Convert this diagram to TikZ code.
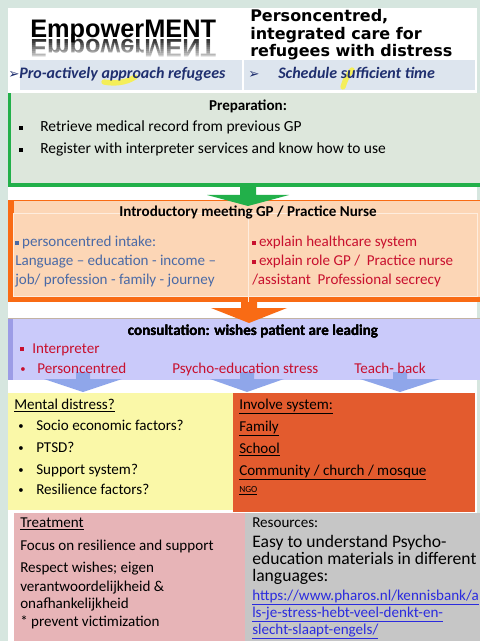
\documentclass[tikz,border=0pt]{standalone}
\usepackage{fontspec}
\setmainfont{Carlito}
\newfontfamily\arialfont{Liberation Sans}
\newfontfamily\verdfont{DejaVu Sans}
\usetikzlibrary{positioning}

\definecolor{mint}{HTML}{D6E6DF}
\definecolor{stripblue}{HTML}{DDE5EE}
\definecolor{striptext}{HTML}{1F2F6F}
\definecolor{prepfill}{HTML}{DDE7DC}
\definecolor{prepgreen}{HTML}{22B04A}
\definecolor{peach}{HTML}{FCD6B6}
\definecolor{introorange}{HTML}{F96B14}
\definecolor{introblue}{HTML}{4A6AA6}
\definecolor{introred}{HTML}{C8102E}
\definecolor{lavender}{HTML}{CACAFA}
\definecolor{lavbar}{HTML}{9C9CE6}
\definecolor{bluearrow}{HTML}{8FA6EA}
\definecolor{distressyellow}{HTML}{FAF8A8}
\definecolor{systemorange}{HTML}{E35B2E}
\definecolor{treatpink}{HTML}{E7B4B7}
\definecolor{resgray}{HTML}{C6C6C6}
\definecolor{linkblue}{HTML}{2B2BDE}

\newcommand{\sqbullet}[1][3pt]{\rule[1.6pt]{#1}{#1}}
\newcommand{\smallbullet}{{\fontsize{8}{8}\selectfont\raisebox{0.6pt}{•}}}
% colour, centre x, stem top, head top, tip, half head, half stem
\newcommand{\flowarrow}[7]{\fill[#1] (#2-#7,#3) -- (#2-#7,#4) -- (#2-#6,#4) -- (#2,#5)
  -- (#2+#6,#4) -- (#2+#7,#4) -- (#2+#7,#3) -- cycle;}

\begin{document}
\begin{tikzpicture}[x=0.75pt,y=-0.75pt,
    txt/.style={anchor=base west,inner sep=0pt,font=\fontsize{11.3}{13}\selectfont},
    bigtxt/.style={anchor=base west,inner sep=0pt,font=\fontsize{13.2}{15}\selectfont},
    linktxt/.style={anchor=base west,inner sep=0pt,text=linkblue,font=\fontsize{11.3}{13}\selectfont},
    head/.style={anchor=base,inner sep=0pt,font=\bfseries\fontsize{11.3}{13}\selectfont},
    striptxt/.style={anchor=base west,inner sep=0pt,text=striptext,font=\bfseries\itshape\fontsize{12}{13}\selectfont},
    titletxt/.style={anchor=base west,inner sep=0pt,font=\verdfont\bfseries\fontsize{12}{13}\selectfont},
    logo/.style={anchor=base west,inner sep=0pt,font=\arialfont\bfseries\fontsize{19}{20}\selectfont},
    hilite/.style={yellow!90!white,line width=4pt,line cap=round,opacity=0.7}]
\useasboundingbox (0,0) rectangle (480,641);
\fill[mint] (0,0) rectangle (480,641);
\fill[white] (8,8) rectangle (477,641);

% title
\node[logo,text=black!80,yscale=-1,transform shape] (mirror) at (30,40) {EmpowerMENT};
\foreach \k in {0,...,7}
  \fill[white,opacity=0.1*\k+0.05] (26,41+2*\k) rectangle (222,43+2*\k);
\fill[white] (26,57) rectangle (222,60);
\node[logo] (empower) at (30,38) {EmpowerMENT};
\node[titletxt] (subA) at (250,22) {Personcentred,};
\node[titletxt] (subB) at (250,40) {integrated care for};
\node[titletxt] (subC) at (250,57) {refugees with distress};

% strip
\fill[stripblue] (20,60) rectangle (475,90);
\draw[white,line width=0.8pt] (243,60) -- (243,90);
\draw[hilite] (104,82) .. controls (114,84) and (126,83) .. (135,77);
\draw[hilite] (343,87) .. controls (345,80) and (348,74) .. (352,70);
\node[striptxt] (tickA) at (8,79) {{\verdfont\mdseries\upshape\fontsize{10}{10}\selectfont ➢}};
\node[striptxt] (approach) at (19,79) {Pro-actively approach refugees};
\node[striptxt] (tickB) at (248,79) {{\verdfont\mdseries\upshape\fontsize{10}{10}\selectfont ➢}};
\node[striptxt] (schedule) at (278,79) {Schedule sufficient time};

% preparation
\fill[prepfill] (8,93) rectangle (480,187);
\fill[prepgreen] (8,93) rectangle (11,187);
\fill[prepgreen] (8,183) rectangle (480,187);
\node[head] (prep) at (248,111) {Preparation:};
\node[txt] (bulA) at (19,132) {\sqbullet};
\node[txt,font=\fontsize{11.6}{13}\selectfont] (record) at (40,132) {Retrieve medical record from previous GP};
\node[txt] (bulB) at (19,154) {\sqbullet};
\node[txt,font=\fontsize{11.6}{13}\selectfont] (register) at (40,154) {Register with interpreter services and know how to use};

% introductory meeting
\fill[peach] (8,200) rectangle (480,302);
\fill[introorange] (8,200) rectangle (14,302);
\fill[introorange] (8,297) rectangle (480,302);
\draw[introorange,line width=0.8pt] (8,200.5) -- (480,200.5);
\draw[white!55!peach,line width=0.7pt] (13,213) rectangle (477,296) (248,213) -- (248,302);
\flowarrow{prepgreen}{248}{187}{195}{206}{41}{8}
\node[head] (intro) at (248,217) {Introductory meeting GP / Practice Nurse};
\node[txt,text=introblue] (intake) at (15,247) {\sqbullet[2.6pt] personcentred intake:};
\node[txt,text=introblue] (language) at (15,266) {Language -- education - income --};
\node[txt,text=introblue] (journey) at (15,284) {job/ profession - family - journey};
\node[txt,text=introred] (health) at (252,247) {\sqbullet[2.6pt] explain healthcare system};
\node[txt,text=introred] (role) at (252,266) {\sqbullet[2.6pt] explain role GP /\ \ Practice nurse};
\node[txt,text=introred] (secrecy) at (252,284) {/assistant\ \ Professional secrecy};

% consultation
\fill[lavender] (8,318) rectangle (480,380);
\fill[lavbar] (8,318) rectangle (13,380);
\draw[brown!40!gray!60,line width=0.6pt] (8,318) -- (480,318);
\flowarrow{introorange}{249}{302}{308}{323}{38}{8}
\foreach \cx/\hw in {83/39, 247/37, 400/40}
  \flowarrow{bluearrow}{\cx}{372}{379}{392}{\hw}{7}
\node[head] (consult) at (253,335) {consultation: wishes patient are leading};
\node[txt,text=introred] (interp) at (20,353) {\sqbullet[3pt]\hspace{6pt}Interpreter};
\node[txt,text=introred] (dotA) at (20,373) {\smallbullet};
\node[txt,text=introred] (person) at (37,373) {Personcentred};
\node[txt,text=introred] (psycho) at (172,373) {Psycho-education stress};
\node[txt,text=introred] (teach) at (354,373) {Teach- back};

% mental distress / involve system
\fill[distressyellow] (8,393) rectangle (233,510);
\fill[systemorange] (233,393) rectangle (475,512);
\node[txt] (distress) at (14,409) {\underline{Mental distress?}};
\foreach \name/\yy/\lbl in {socio/430/Socio economic factors?, ptsd/452/PTSD?, support/474/Support system?, resil/494/Resilience factors?}{
  \node[txt] (dot\name) at (18,\yy) {\smallbullet};
  \node[txt] (\name) at (36,\yy) {\lbl};
}
\node[txt] (involve) at (239,409) {\underline{Involve system:}};
\node[txt] (family) at (239,431) {\underline{Family}};
\node[txt] (school) at (239,453) {\underline{School}};
\node[txt] (community) at (239,475) {\underline{Community / church / mosque}};
\node[txt,font=\fontsize{7}{8}\selectfont] (ngo) at (239,492) {\underline{NGO}};

% treatment / resources
\fill[treatpink] (14,513) rectangle (245,641);
\fill[resgray] (245,513) rectangle (480,641);
\node[txt] (treat) at (20,527) {\underline{Treatment}};
\node[txt] (focus) at (20,550) {Focus on resilience and support};
\node[txt] (respect) at (20,572) {Respect wishes; eigen};
\node[txt] (verant) at (20,591) {verantwoordelijkheid \&};
\node[txt] (onaf) at (20,608) {onafhankelijkheid};
\node[txt] (victim) at (20,626) {* prevent victimization};
\node[txt] (resources) at (252,527) {Resources:};
\node[bigtxt] (easy) at (252,547) {Easy to understand Psycho-};
\node[bigtxt] (materials) at (252,564) {education materials in different};
\node[bigtxt] (languages) at (252,581) {languages:};
\node[linktxt] (linkA) at (252,600) {\underline{https://www.pharos.nl/kennisbank/a}};
\node[linktxt] (linkB) at (252,617) {\underline{ls-je-stress-hebt-veel-denkt-en-}};
\node[linktxt] (linkC) at (252,634) {\underline{slecht-slaapt-engels/}};
\end{tikzpicture}
\end{document}
